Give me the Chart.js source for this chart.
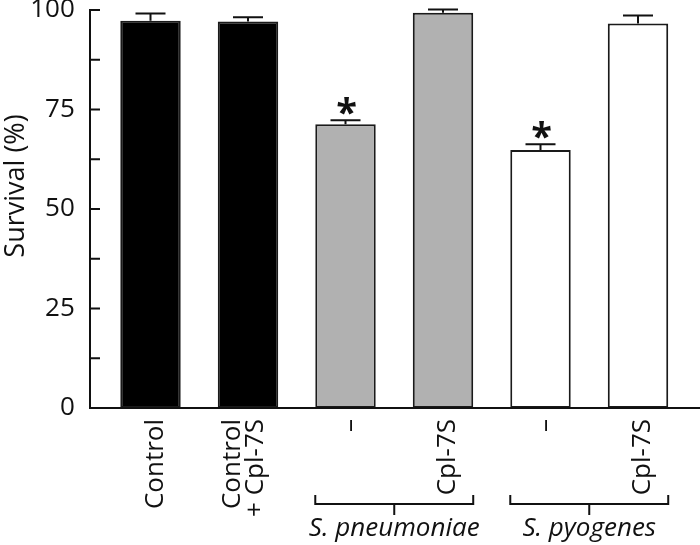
<!DOCTYPE html>
<html>
<head>
<meta charset="utf-8">
<script src="https://cdn.jsdelivr.net/npm/chart.js@4/dist/chart.umd.min.js"></script>
<style>
    body { margin: 0; background: #fff; }
    #wrap { width: 700px; height: 545px; }
</style>
</head>
<body>
<div id="wrap"><canvas id="survivalChart" width="700" height="545"></canvas></div>
<script>
// --- Data ---
const categories = [['Control'], ['Control', '+ Cpl-7S'], ['–'], ['Cpl-7S'], ['–'], ['Cpl-7S']];
const survival = [97.3, 97.1, 71.3, 99.3, 64.8, 96.6];
const errors = [1.8, 1.1, 1.0, 0.8, 1.5, 2.0];
const significant = [false, false, true, false, true, false];
const groupLabels = ['S. pneumoniae', 'S. pyogenes'];
const groupFirst = [2, 4];
const groupLast = [3, 5];
const yMin = 0, yMax = 100, yMinorStep = 12.5, yMajorStep = 25;
const yTitle = 'Survival (%)';

// --- Styles ---
const INK = '#111';
const barFills = ['#000000', '#000000', '#b1b1b1', '#b1b1b1', '#ffffff', '#ffffff'];
const FONT = '"Open Sans", sans-serif';

// Everything the library does not draw by itself: axes, error bars, labels, brackets
const annotationsPlugin = {
    id: 'annotations',
    afterDatasetsDraw(chart) {
        const ctx = chart.ctx;
        const y = chart.scales.y;
        const bars = chart.getDatasetMeta(0).data;
        const axisX = 90;
        const baseY = y.getPixelForValue(0);

        ctx.save();
        ctx.strokeStyle = INK;
        ctx.fillStyle = INK;
        ctx.lineWidth = 2;

        // error bars + asterisks
        bars.forEach((bar, i) => {
            const top = y.getPixelForValue(survival[i] + errors[i]);
            ctx.beginPath();
            ctx.moveTo(bar.x, bar.y);
            ctx.lineTo(bar.x, top);
            ctx.moveTo(bar.x - 15, top);
            ctx.lineTo(bar.x + 15, top);
            ctx.stroke();
            if (significant[i]) {
                ctx.font = 'bold 38px ' + FONT;
                ctx.textAlign = 'center';
                ctx.textBaseline = 'alphabetic';
                const m = ctx.measureText('*');
                const mid = (m.actualBoundingBoxAscent - m.actualBoundingBoxDescent) / 2;
                ctx.fillText('*', bar.x + 1, top - 14 + mid);
            }
        });

        // axes with inward ticks
        ctx.beginPath();
        ctx.moveTo(axisX, y.getPixelForValue(yMax) - 1);
        ctx.lineTo(axisX, baseY + 1);
        ctx.moveTo(axisX - 1, baseY);
        ctx.lineTo(chart.width, baseY);
        for (let v = yMin; v <= yMax; v += yMinorStep) {
            const py = y.getPixelForValue(v);
            ctx.moveTo(axisX, py);
            ctx.lineTo(axisX + 10, py);
        }
        ctx.stroke();

        // y title
        ctx.save();
        ctx.font = '27px ' + FONT;
        ctx.translate(24, 186);
        ctx.rotate(-Math.PI / 2);
        ctx.textAlign = 'center';
        ctx.textBaseline = 'alphabetic';
        ctx.fillText(yTitle, 0, 0);
        ctx.restore();

        // rotated category labels
        ctx.font = '26px ' + FONT;
        bars.forEach((bar, i) => {
            const lines = categories[i];
            const n = lines.length;
            const off = n === 1 ? 12 : 3.5;
            lines.forEach((line, j) => {
                ctx.save();
                ctx.translate(bar.x + off + (j - (n - 1) / 2) * 23, 419);
                ctx.rotate(-Math.PI / 2);
                ctx.textAlign = 'right';
                ctx.textBaseline = 'alphabetic';
                ctx.fillText(line, 0, 0);
                ctx.restore();
            });
        });

        // group brackets
        groupLabels.forEach((label, g) => {
            const a = bars[groupFirst[g]], b = bars[groupLast[g]];
            const left = a.x - a.width / 2, right = b.x + b.width / 2;
            const mid = (left + right) / 2;
            const by = 504;
            ctx.beginPath();
            ctx.moveTo(left, by - 9);
            ctx.lineTo(left, by);
            ctx.lineTo(right, by);
            ctx.lineTo(right, by - 9);
            ctx.moveTo(mid, by);
            ctx.lineTo(mid, by + 11);
            ctx.stroke();
            ctx.font = 'italic 26px ' + FONT;
            ctx.textAlign = 'center';
            ctx.textBaseline = 'alphabetic';
            ctx.fillText(label, mid, 536);
        });
        ctx.restore();
    }
};

new Chart(document.getElementById('survivalChart'), {
    type: 'bar',
    data: {
        labels: categories,
        datasets: [{
            data: survival,
            backgroundColor: barFills,
            borderColor: '#1a1a1a',
            borderWidth: 2,
            borderSkipped: false,
            categoryPercentage: 1,
            barPercentage: 0.62
        }]
    },
    options: {
        responsive: false,
        animation: false,
        layout: { padding: { top: 10, right: 13.25, bottom: 137, left: 0 } },
        plugins: { legend: { display: false }, tooltip: { enabled: false } },
        scales: {
            x: { display: false },
            y: {
                min: yMin,
                max: yMax,
                grid: { display: false, drawTicks: false },
                border: { display: false },
                ticks: {
                    stepSize: yMinorStep,
                    autoSkip: false,
                    padding: 27,
                    color: INK,
                    font: { family: FONT, size: 26 },
                    callback: v => (v % yMajorStep === 0 ? v : '')
                },
                afterFit: s => {
                    s.width = 101.75;
                    s.paddingTop = 0;
                    s.paddingBottom = 0;
                }
            }
        }
    },
    plugins: [annotationsPlugin]
});
</script>
</body>
</html>
